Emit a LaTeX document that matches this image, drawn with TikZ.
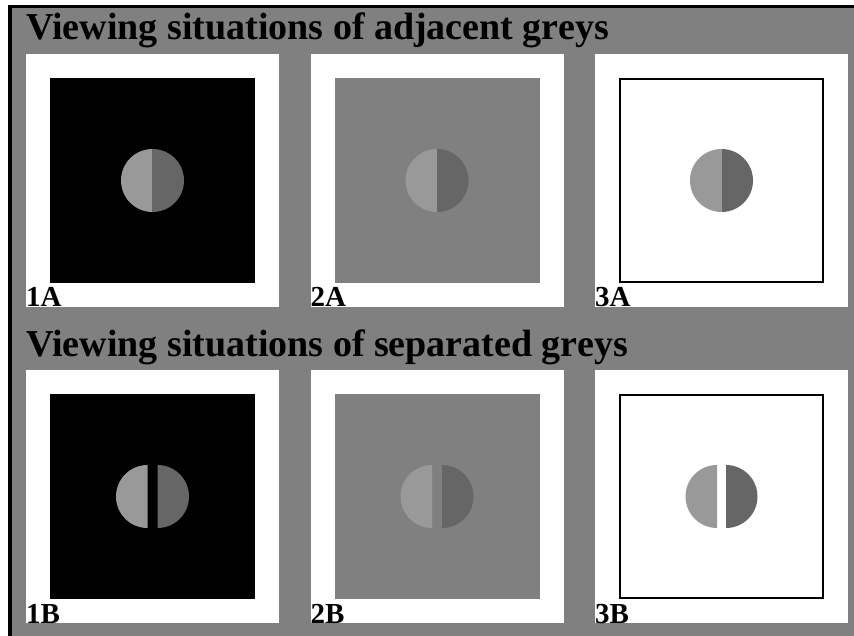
\documentclass[tikz,border=0pt]{standalone}
\usepackage{fontspec}
\setmainfont{Liberation Serif}
\definecolor{bggrey}{RGB}{128,128,128}
\definecolor{lightdisc}{RGB}{153,153,153}
\definecolor{darkdisc}{RGB}{102,102,102}
\tikzset{
  heading/.style={anchor=base west, inner sep=0pt, font=\bfseries\fontsize{38}{40}\selectfont},
  tag/.style={anchor=base west, inner sep=0pt, font=\bfseries\fontsize{29}{31}\selectfont},
  panel/.style={fill=white},
}
% #1,#2: top-left corner of a panel; #3: fill of the inner square;
% #4: outline of the inner square; #5: half-gap between the two half discs
\newcommand\greypanel[5]{%
  \fill[panel] (#1,#2) rectangle ++(253,253);
  \filldraw[fill=#3, draw=#4, line width=2pt] (#1+25,#2+25) rectangle (#1+228,#2+228);
  \begin{scope}
    \clip (#1+126.5-#5-40,#2+80) rectangle (#1+126.5-#5,#2+175);
    \fill[lightdisc] (#1+126.5-#5,#2+126.5) circle[radius=31.5pt];
  \end{scope}
  \begin{scope}
    \clip (#1+126.5+#5,#2+80) rectangle (#1+126.5+#5+40,#2+175);
    \fill[darkdisc] (#1+126.5+#5,#2+126.5) circle[radius=31.5pt];
  \end{scope}
}
\begin{document}
\begin{tikzpicture}[x=1pt,y=-1pt]
  \useasboundingbox (0,0) rectangle (854,636);
  % frame and grey ground
  \fill[black] (8,5) rectangle (854,636);
  \fill[bggrey] (12,8) rectangle (854,636);

  \node[heading] (titleA) at (26,40) {Viewing situations of adjacent greys};
  \greypanel{26}{54}{black}{black}{0}
  \greypanel{310.5}{54}{bggrey}{bggrey}{0}
  \greypanel{595}{54}{white}{black}{0}
  \node[tag] (l1A) at (26,307) {1A};
  \node[tag] (l2A) at (310.5,307) {2A};
  \node[tag] (l3A) at (595,307) {3A};

  \node[heading] (titleB) at (26,356) {Viewing situations of separated greys};
  \greypanel{26}{370}{black}{black}{5}
  \greypanel{310.5}{370}{bggrey}{bggrey}{5}
  \greypanel{595}{370}{white}{black}{4.5}
  \node[tag] (l1B) at (26,623) {1B};
  \node[tag] (l2B) at (310.5,623) {2B};
  \node[tag] (l3B) at (595,623) {3B};
\end{tikzpicture}
\end{document}
